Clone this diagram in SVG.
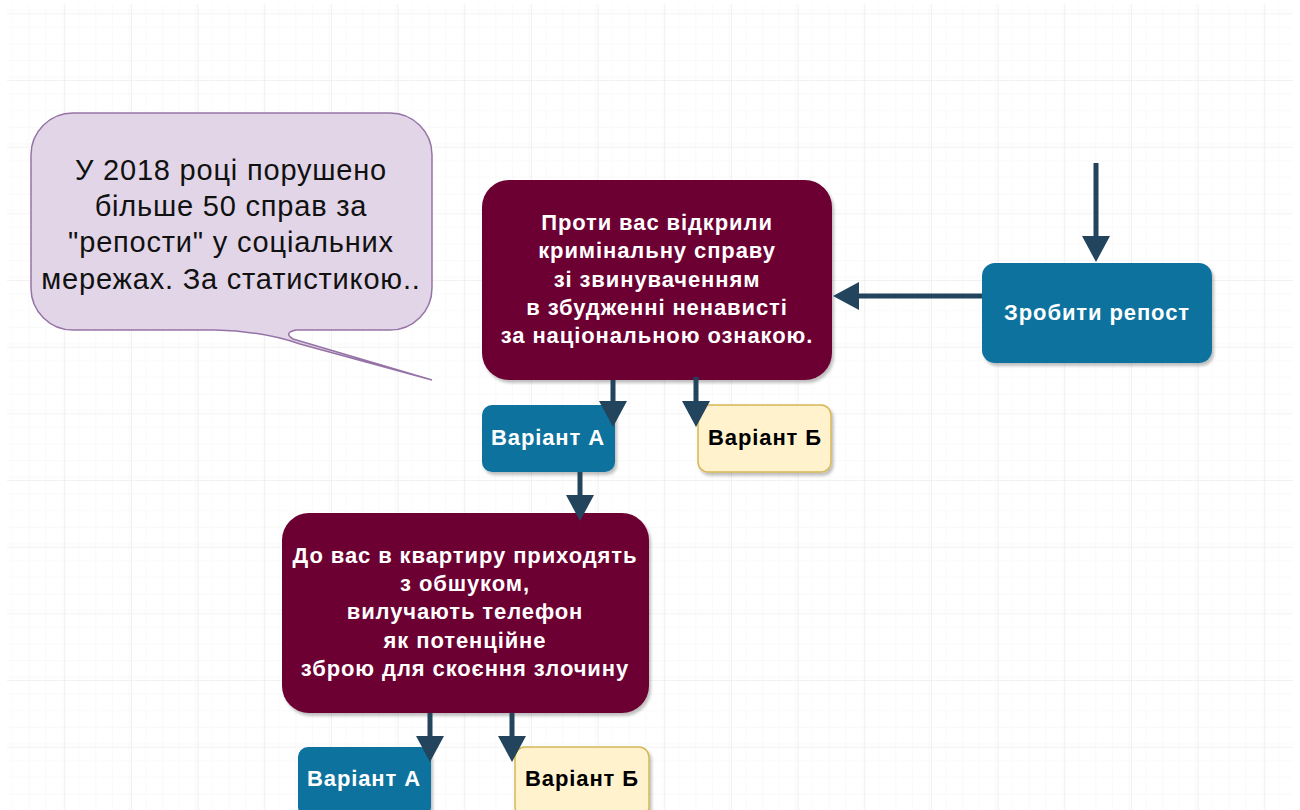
<svg xmlns="http://www.w3.org/2000/svg" width="1300" height="810" viewBox="0 0 1300 810">
<defs>
<pattern id="minor" patternUnits="userSpaceOnUse" x="-2.37" y="13.33" width="16.667" height="16.667">
<path d="M0 0H16.667M0 0V16.667" fill="none" stroke="#f4f4f4" stroke-width="1"/>
</pattern>
<pattern id="major" patternUnits="userSpaceOnUse" x="-2.37" y="13.33" width="66.667" height="66.667">
<rect width="66.667" height="66.667" fill="url(#minor)"/>
<path d="M0 0H66.667M0 0V66.667" fill="none" stroke="#e6e6e6" stroke-width="1.2"/>
</pattern>
<filter id="sh" x="-10%" y="-10%" width="130%" height="130%">
<feDropShadow dx="2" dy="3" stdDeviation="1.5" flood-color="#000" flood-opacity="0.25"/>
</filter>
<marker id="ah" markerUnits="userSpaceOnUse" viewBox="0 0 26 28" refX="0" refY="14" markerWidth="26" markerHeight="28" orient="auto">
<path d="M0 0L26 14L0 28Z" fill="#23445d"/>
</marker>
</defs>
<style>
.bubble{fill:#e1d5e7;stroke:#9673a6;stroke-width:1.5}
.red{fill:#6d0033;filter:url(#sh)}
.blue{fill:#10739e;filter:url(#sh)}
.yellow{fill:#fff2cc;stroke:#d6b656;stroke-width:1.5;filter:url(#sh)}
.t{font-family:"Liberation Sans",Arial,sans-serif;text-anchor:middle}
.reg{font-size:29px;letter-spacing:0.8px;fill:#111}
.bw{font-size:22px;letter-spacing:0.9px;font-weight:bold;fill:#fff}
.bb{font-size:22px;letter-spacing:0.9px;font-weight:bold;fill:#000}
.conn{stroke:#23445d;stroke-width:5;fill:none;marker-end:url(#ah)}
</style>
<rect width="1300" height="810" fill="#fff"/>
<rect x="7" y="4" width="1286" height="806" fill="url(#major)"/>

<g id="callout">
<path class="bubble" d="M73 113H390A42 42 0 0 1 432 155V288A42 42 0 0 1 390 330H296Q283 333 293 339L432 380L300 344Q262 331 215 330H73A42 42 0 0 1 31 288V155A42 42 0 0 1 73 113Z"/>
<text class="t reg"><tspan x="231" y="180">У 2018 році порушено</tspan><tspan x="231" y="216">більше 50 справ за</tspan><tspan x="231" y="252">"репости" у соціальних</tspan><tspan x="231" y="289">мережах. За статистикою..</tspan></text>
</g>

<g id="case">
<rect class="red" x="482" y="180" width="350" height="200" rx="27"/>
<text class="t bw"><tspan x="657" y="230">Проти вас відкрили</tspan><tspan x="657" y="258">кримінальну справу</tspan><tspan x="657" y="287">зі звинуваченням</tspan><tspan x="657" y="315">в збудженні ненависті</tspan><tspan x="657" y="343">за національною ознакою.</tspan></text>
</g>

<g id="repost">
<rect class="blue" x="982" y="263" width="230" height="100" rx="13"/>
<text class="t bw" x="1097" y="320">Зробити репост</text>
</g>

<g id="variantA1">
<rect class="blue" x="482" y="405" width="133" height="67" rx="10"/>
<text class="t bw" x="548" y="445">Варіант А</text>
</g>

<g id="variantB1">
<rect class="yellow" x="698" y="405" width="133" height="67" rx="10"/>
<text class="t bb" x="765" y="445">Варіант Б</text>
</g>

<g id="search">
<rect class="red" x="282" y="513" width="367" height="200" rx="27"/>
<text class="t bw"><tspan x="465" y="563">До вас в квартиру приходять</tspan><tspan x="465" y="591">з обшуком,</tspan><tspan x="465" y="619">вилучають телефон</tspan><tspan x="465" y="648">як потенційне</tspan><tspan x="465" y="676">зброю для скоєння злочину</tspan></text>
</g>

<g id="variantA2">
<rect class="blue" x="298" y="747" width="133" height="70" rx="10"/>
<text class="t bw" x="364" y="786">Варіант А</text>
</g>

<g id="variantB2">
<rect class="yellow" x="515" y="747" width="134" height="70" rx="10"/>
<text class="t bb" x="582" y="786">Варіант Б</text>
</g>

<g id="connectors">
<path class="conn" d="M1096 163V236"/>
<path class="conn" d="M982 296H859"/>
<path class="conn" d="M613 380V401"/>
<path class="conn" d="M696 377V401"/>
<path class="conn" d="M580 472V495"/>
<path class="conn" d="M430 713V736"/>
<path class="conn" d="M512 713V736"/>
</g>
</svg>
